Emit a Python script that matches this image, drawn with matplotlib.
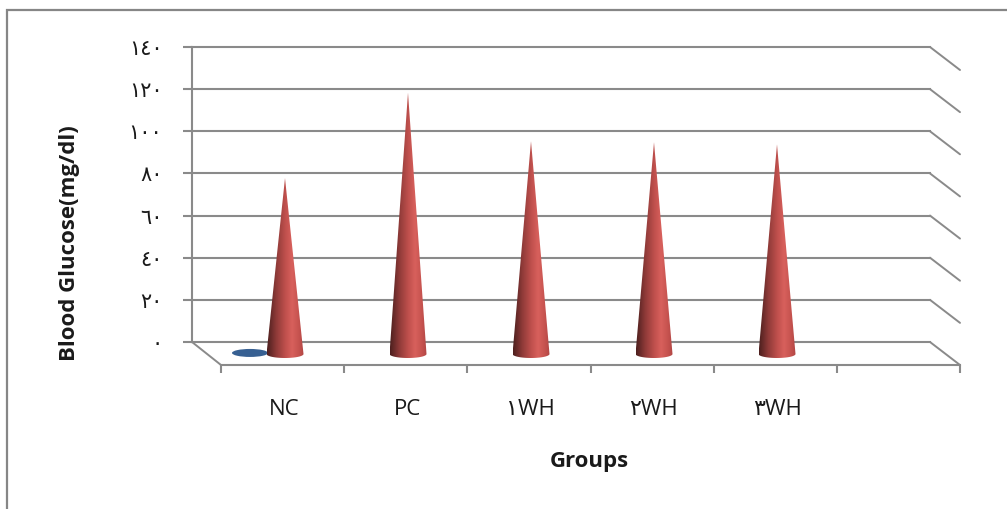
import numpy as np
import matplotlib
matplotlib.use("Agg")
import matplotlib.pyplot as plt
from matplotlib.colors import LinearSegmentedColormap
from matplotlib.patches import Polygon, Ellipse, Rectangle

plt.rcParams['font.family'] = ['Open Sans', 'DejaVu Sans']

categories = ["NC", "PC", "\u0661WH", "\u0662WH", "\u0663WH", ""]
series_red = [83.5, 124, 101, 100.5, 99.5]
series_blue = [0.5]
y_ticks = [0, 20, 40, 60, 80, 100, 120, 140]
y_labels = ["\u0660", "\u0662\u0660", "\u0664\u0660", "\u0666\u0660", "\u0668\u0660",
            "\u0661\u0660\u0660", "\u0661\u0662\u0660", "\u0661\u0664\u0660"]

W, H = 1007, 509
GREY = "#8a8a8a"
TXT = "#1a1a1a"
fig = plt.figure(figsize=(W / 100, H / 100), dpi=100, facecolor="white")


def rect(x0, ytop, x1, ybot):
    return [x0 / W, 1 - ybot / H, (x1 - x0) / W, (ybot - ytop) / H]


fig.add_artist(Rectangle((7 / W, -0.05), 1.1, 1 - 10 / H + 0.05, transform=fig.transFigure,
                         fill=False, ec="#868686", lw=1.6))

# back wall
back = fig.add_axes(rect(192, 47, 930, 342), facecolor="none")
back.set_xlim(-0.5, 5.5)
back.set_ylim(0, 140)
for s in ["top", "right", "bottom"]:
    back.spines[s].set_visible(False)
back.spines["left"].set_color(GREY)
back.spines["left"].set_linewidth(1.5)
back.set_xticks([])
back.set_yticks(y_ticks, y_labels, fontsize=15, color=TXT)
back.tick_params(axis="y", length=6.3, width=1.5, color=GREY, pad=15)
back.grid(axis="y", color=GREY, lw=1.5)
for g in back.get_ygridlines():
    g.set_clip_on(False)
back.set_axisbelow(True)
dx, dv = 30 / 123, 23 / (295 / 140)
for v in y_ticks:
    back.plot([5.5, 5.5 + dx], [v, v - dv], color=GREY, lw=1.4, clip_on=False,
              solid_capstyle="round")
back.plot([-0.5, -0.5 + dx * 29 / 30], [0, -dv], color=GREY, lw=1.4, clip_on=False)
back.set_ylabel("Blood Glucose(mg/dl)", fontsize=16, fontweight="bold", color=TXT, va="center")
back.yaxis.set_label_coords((70 - 192) / 738, (342 - 243) / 295)

# front floor edge
front = fig.add_axes(rect(221, 70, 960, 365), facecolor="none")
front.set_xlim(-0.5, 5.5)
front.set_ylim(0, 140)
for s in ["top", "right", "left"]:
    front.spines[s].set_visible(False)
front.spines["bottom"].set_color(GREY)
front.spines["bottom"].set_linewidth(1.5)
front.set_yticks([])
front.set_xticks(np.arange(-0.5, 6, 1), [""] * 7)
front.tick_params(axis="x", which="major", length=6, width=1.5, color=GREY)
front.set_xticks(np.arange(len(categories)) + 0.015, categories, minor=True,
                 fontsize=16, color=TXT)
front.tick_params(axis="x", which="minor", length=0, pad=24.5)
front.set_xlabel("Groups", fontsize=16, fontweight="bold", color=TXT)
front.xaxis.set_label_coords((589 - 221) / 739, (365 - 461) / 295)
front.xaxis.label.set_verticalalignment("center")

# series plane
ax = fig.add_axes(rect(206, 59, 944, 354), facecolor="none")
ax.set_xlim(-0.5, 5.5)
ax.set_ylim(0, 140)
ax.axis("off")

cmap = LinearSegmentedColormap.from_list(
    "cone", [(0, "#4c1f1e"), (0.25, "#8e3a38"), (0.5, "#c0504d"), (0.68, "#d8605c"),
             (0.88, "#c4514e"), (1, "#b04644")])
grad = np.linspace(0, 1, 256).reshape(1, -1)
half_w, half_h, gap = 18.5 / 123, 4 / (295 / 140), 17.5 / 123

for i, v in enumerate(series_blue):
    ax.add_patch(Ellipse((i - gap, v), 36 / 123, 8 / (295 / 140), fc="#376092",
                         ec="none", zorder=2, clip_on=False))

t = np.linspace(0, np.pi, 60)
for i, v in enumerate(series_red):
    c = i + gap
    arc = np.column_stack([c + half_w * np.cos(t), -half_h * np.sin(t)])
    poly = np.vstack([[[c, v]], arc[::-1]])
    patch = Polygon(poly, closed=True, transform=ax.transData, fc="none", ec="none",
                    clip_on=False)
    ax.add_patch(patch)
    im = ax.imshow(grad, extent=[c - half_w, c + half_w, -half_h, v], aspect="auto",
                   cmap=cmap, zorder=3, interpolation="bilinear")
    im.set_clip_path(patch)
    im.set_clip_box(fig.bbox)
ax.set_xlim(-0.5, 5.5)
ax.set_ylim(0, 140)

fig.savefig("out.png", dpi=100, facecolor="white")
